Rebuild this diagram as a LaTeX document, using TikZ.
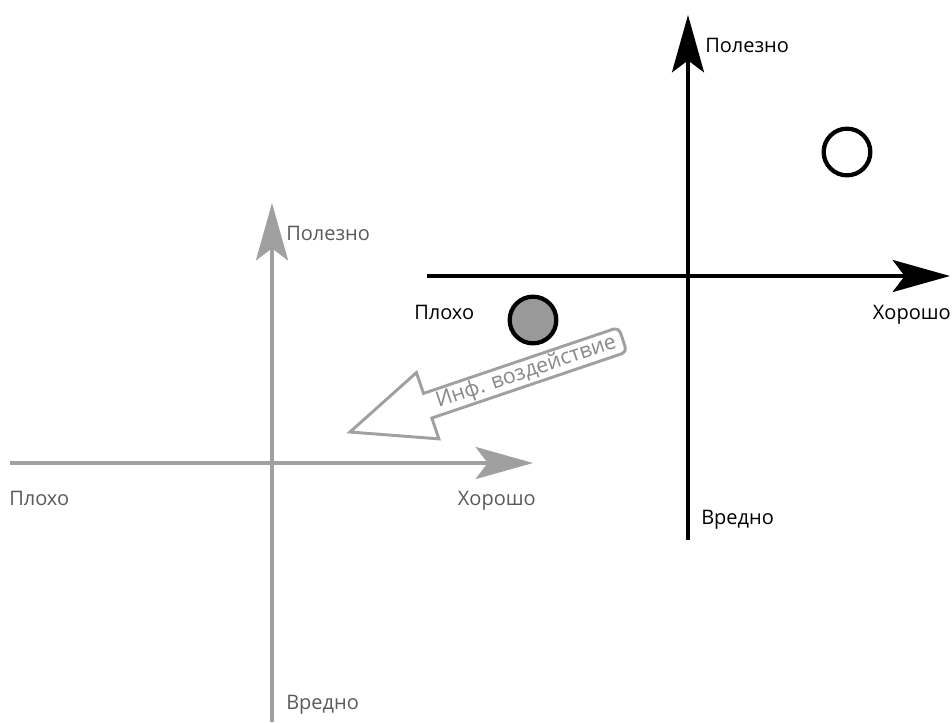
\documentclass[tikz,border=0pt]{standalone}
\usepackage{fontspec}
\setmainfont{Open Sans}
\usetikzlibrary{arrows.meta}
\definecolor{axgrey}{HTML}{A0A0A0}
\definecolor{txgrey}{HTML}{5A5A5A}
\definecolor{dotgrey}{HTML}{999999}
\tikzset{
  axis/.style={line width=3pt, -{Stealth[length=43pt,width=24pt,inset=9pt]}},
  lbl/.style={font=\fontsize{15}{17}\selectfont, inner sep=0pt},
  dot/.style={circle, draw=black, line width=3.2pt, minimum size=35pt, inner sep=0pt}
}
\begin{document}
\begin{tikzpicture}[x=0.75pt,y=-0.75pt]
\useasboundingbox (0,0) rectangle (952,722);
% black axes
\coordinate (bL) at (427,276);
\coordinate (bR) at (950,276);
\coordinate (bB) at (688,540);
\coordinate (bT) at (688,15);
\draw[axis, black] (bL) -- (bR);
\draw[axis, black] (bB) -- (bT);
\node[lbl, anchor=base west] (bUse) at (705,52) {Полезно};
\node[lbl, anchor=base east] (bGood) at (951,319) {Хорошо};
\node[lbl, anchor=base west] (bBad) at (414,319) {Плохо};
\node[lbl, anchor=base west] (bHarm) at (701,524) {Вредно};
% grey axes
\coordinate (gL) at (10,463);
\coordinate (gR) at (533,463);
\coordinate (gB) at (272,722);
\coordinate (gT) at (272,203);
\draw[axis, axgrey] (gL) -- (gR);
\draw[axis, axgrey] (gB) -- (gT);
\node[lbl, anchor=base west, text=txgrey] (gUse) at (286,240) {Полезно};
\node[lbl, anchor=base east, text=txgrey] (gGood) at (536,505) {Хорошо};
\node[lbl, anchor=base west, text=txgrey] (gBad) at (9,505) {Плохо};
\node[lbl, anchor=base west, text=txgrey] (gHarm) at (286,709) {Вредно};
% circles
\node[dot, fill=white] (good) at (847,152) {};
\node[dot, fill=dotgrey] (bad) at (533,320) {};
% big arrow
\begin{scope}[shift={(350,432)}, rotate=18.7]
  \draw[axgrey, line width=2.2pt, line join=miter]
    (0,0) -- (82,-35) -- (82,-13) [rounded corners=4pt] -- (288,-13) -- (288,13) [sharp corners] -- (82,13) -- (82,35) -- cycle;
  \node[font=\fontsize{16}{18}\selectfont, inner sep=0pt, text=axgrey!85!black, rotate=18.7] (inf) at (186,0) {Инф. воздействие};
\end{scope}
\end{tikzpicture}
\end{document}
